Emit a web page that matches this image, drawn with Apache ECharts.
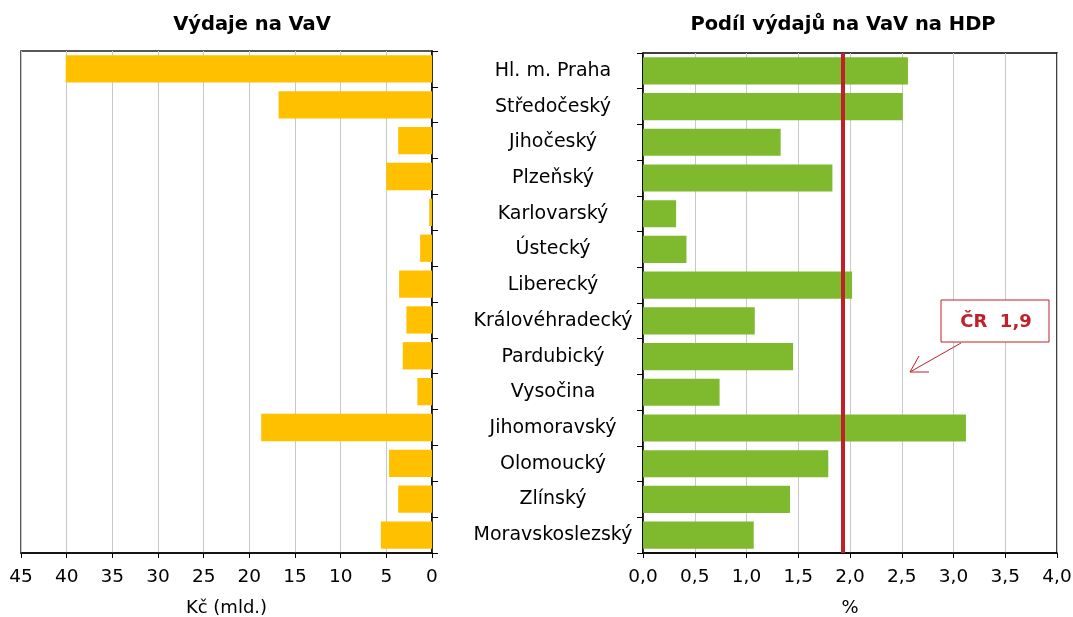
<!DOCTYPE html>
<html>
<head>
<meta charset="utf-8">
<script src="https://cdn.jsdelivr.net/npm/echarts@6/dist/echarts.min.js"></script>
<style>
  html, body { margin: 0; padding: 0; background: #fff; }
  #chart { width: 1073px; height: 617px; }
</style>
</head>
<body>
<div id="chart"></div>
<script>
// kraje
const regions = ['Hl. m. Praha', 'Středočeský', 'Jihočeský', 'Plzeňský', 'Karlovarský', 'Ústecký',
  'Liberecký', 'Královéhradecký', 'Pardubický', 'Vysočina', 'Jihomoravský', 'Olomoucký',
  'Zlínský', 'Moravskoslezský'];
// výdaje na VaV, mld. Kč
const spending = [40.1, 16.8, 3.7, 5.0, 0.3, 1.3, 3.6, 2.8, 3.2, 1.6, 18.7, 4.7, 3.7, 5.6];
// podíl na HDP, %
const shareGdp = [2.56, 2.51, 1.33, 1.83, 0.32, 0.42, 2.02, 1.08, 1.45, 0.74, 3.12, 1.79, 1.42, 1.07];
// průměr ČR
const czAvg = 1.93;

const font = 'DejaVu Sans, Liberation Sans, sans-serif';
const red = '#C0202A';

const myChart = echarts.init(document.getElementById('chart'));

const option = {
  animation: false,
  textStyle: { fontFamily: font },
  title: [
    { text: 'Výdaje na VaV', left: 247, top: 10, textAlign: 'center',
      textStyle: { fontSize: 19.5, fontWeight: 'bold', color: '#000', fontFamily: font } },
    { text: 'Podíl výdajů na VaV na HDP', left: 838, top: 10, textAlign: 'center',
      textStyle: { fontSize: 19.5, fontWeight: 'bold', color: '#000', fontFamily: font } }
  ],
  grid: [
    { left: 21, right: 641, top: 51, bottom: 64, show: true, borderColor: '#222', borderWidth: 1.5,
      containLabel: false, outerBoundsMode: 'none' },
    { left: 643, right: 16, top: 53, bottom: 64, show: true, borderColor: '#000', borderWidth: 1.5,
      containLabel: false, outerBoundsMode: 'none' }
  ],
  xAxis: [
    {
      gridIndex: 0, type: 'value', inverse: true, min: 0, max: 45, interval: 5,
      name: 'Kč (mld.)', nameLocation: 'middle', nameGap: 46,
      nameTextStyle: { fontSize: 18, color: '#000' },
      axisLine: { show: true, lineStyle: { color: '#000', width: 1.5 } },
      axisTick: { show: true, length: 5, lineStyle: { color: '#000' } },
      axisLabel: { fontSize: 18.5, color: '#000', margin: 15 },
      splitLine: { show: true, lineStyle: { color: '#c8c8c8', width: 1 } }
    },
    {
      gridIndex: 1, type: 'value', min: 0, max: 4, interval: 0.5,
      name: '%', nameLocation: 'middle', nameGap: 46,
      nameTextStyle: { fontSize: 18, color: '#000' },
      axisLine: { show: true, lineStyle: { color: '#000', width: 1.5 } },
      axisTick: { show: true, length: 5, lineStyle: { color: '#000' } },
      axisLabel: { fontSize: 18.5, color: '#000', margin: 15,
        formatter: v => v.toFixed(1).replace('.', ',') },
      splitLine: { show: true, lineStyle: { color: '#c8c8c8', width: 1 } }
    }
  ],
  yAxis: [
    {
      gridIndex: 0, type: 'category', data: regions, inverse: true, position: 'right',
      axisLine: { show: true, lineStyle: { color: '#000', width: 1.5 } },
      axisTick: { show: true, length: 6, lineStyle: { color: '#000' } },
      axisLabel: { show: false }
    },
    {
      gridIndex: 1, type: 'category', data: regions, inverse: true,
      axisLine: { show: true, lineStyle: { color: '#000', width: 1.5 } },
      axisTick: { show: true, length: 6, lineStyle: { color: '#000' } },
      axisLabel: { fontSize: 19, color: '#000', align: 'center', margin: 90 }
    }
  ],
  series: [
    {
      name: 'Výdaje na VaV', type: 'bar', xAxisIndex: 0, yAxisIndex: 0,
      data: spending, barCategoryGap: '24%',
      itemStyle: { color: '#FFC000' }
    },
    {
      name: 'Podíl na HDP', type: 'bar', xAxisIndex: 1, yAxisIndex: 1,
      data: shareGdp, barCategoryGap: '24%',
      itemStyle: { color: '#7FBA2E' },
      markLine: {
        silent: true, symbol: 'none', label: { show: false },
        lineStyle: { color: red, width: 4, type: 'solid' },
        data: [{ xAxis: czAvg }]
      }
    }
  ],
  graphic: [
    { type: 'rect', shape: { x: 941, y: 300, width: 108, height: 42 },
      style: { fill: '#fff', stroke: red, lineWidth: 1 }, z: 100 },
    { type: 'text', x: 996, y: 322, z: 101,
      style: { text: 'ČR  1,9', fill: red, font: 'bold 18px ' + font, align: 'center', verticalAlign: 'middle' } },
    { type: 'line', shape: { x1: 961, y1: 343, x2: 910, y2: 372 },
      style: { stroke: red, lineWidth: 1 }, z: 100 },
    { type: 'polyline', shape: { points: [[919, 356], [910, 372], [929, 372]] },
      style: { stroke: red, lineWidth: 1, fill: null }, z: 100 }
  ]
};

myChart.setOption(option);
</script>
</body>
</html>
